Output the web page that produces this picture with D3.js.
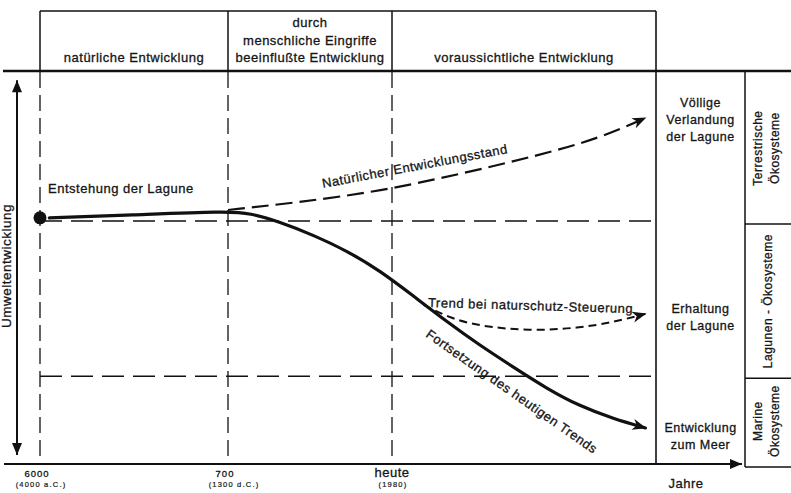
<!DOCTYPE html>
<html>
<head>
<meta charset="utf-8">
<script src="https://cdn.jsdelivr.net/npm/d3@7"></script>
<style>
body { margin: 0; background: #fff; }
svg text { font-family: "Liberation Sans", Arial, Helvetica, sans-serif; fill: #151515; stroke: #151515; stroke-width: 0.3px; letter-spacing: 0.5px; }
</style>
</head>
<body>
<svg id="svg" width="791" height="493"></svg>
<script>
// phases along the (schematic) time axis, stage 0..3
var phaseLabels = [
    ["natürliche Entwicklung"],
    ["durch", "menschliche Eingriffe", "beeinflußte Entwicklung"],
    ["voraussichtliche Entwicklung"]
];
var stageBounds = [0, 1, 2, 3];
var tickLabels = ["6000", "700", "heute"];
var tickSubLabels = ["(4000 a.C.)", "(1300 d.C.)", "(1980)"];

// outcome column + ecosystem column
var outcomeLabels = [["Völlige", "Verlandung", "der Lagune"], ["Erhaltung", "der Lagune"], ["Entwicklung", "zum Meer"]];
var ecoLabels = [["Terrestrische", "Ökosysteme"], ["Lagunen - Ökosysteme"], ["Marine", "Ökosysteme"]];
var ecoBreaks = [100, 61.2, 21.9, 0];

// reference levels (0 = bottom, 100 = top of "Umweltentwicklung")
var lagoonLevel = 62.0;
var marineLevel = 22.4;
var originLevel = 62.8;

// curves: stage / level
var trendStage = [0.05, 0.48, 1.0, 1.13, 1.32, 1.52, 1.73, 1.93, 2.08, 2.21, 2.33, 2.46, 2.59, 2.71, 2.84, 2.96];
var trendLevel = [62.8, 63.5, 64.5, 64.0, 61.7, 58.4, 54.3, 49.2, 42.9, 36.2, 30.4, 24.7, 19.1, 14.8, 11.5, 9.2];

var naturalStage = [1.0, 1.44, 1.93, 2.26, 2.56, 2.79, 2.96];
var naturalLevel = [64.8, 66.8, 69.6, 74.0, 78.8, 83.2, 88.3];

var protectStage = [2.12, 2.22, 2.33, 2.52, 2.71, 2.84, 2.96];
var protectLevel = [40.6, 37.2, 35.2, 33.9, 34.7, 36.2, 38.3];

//////////////////////////////////////////////////////////////////////////////
var svg = d3.select("#svg");
var ink = "#111";

var x = d3.scaleLinear().domain(stageBounds).range([40, 228, 392, 656]);
var y = d3.scaleLinear().domain([0, 100]).range([464, 72]);

var headerTop = 11;
var colRight = 745, ecoRight = 791;

function zip(a, b) {
    return a.map(function(v, i) { return [v, b[i]]; });
}

var defs = svg.append("defs");
function addMarker(id, d) {
    defs.append("marker")
        .attr("id", id)
        .attr("markerUnits", "userSpaceOnUse")
        .attr("viewBox", "-16 -8 18 16")
        .attr("markerWidth", 18)
        .attr("markerHeight", 16)
        .attr("refX", 0).attr("refY", 0)
        .attr("orient", "auto-start-reverse")
        .append("path")
        .attr("d", d)
        .attr("fill", ink);
}
addMarker("barb", "M1,0 L-13,-5.5 L-9,0 L-13,5.5 Z");
addMarker("tri", "M0,0 L-12,-5 L-12,5 Z");

function hline(x1, x2, yy, w, dash) {
    svg.append("line").attr("x1", x1).attr("x2", x2).attr("y1", yy).attr("y2", yy)
        .attr("stroke", ink).attr("stroke-width", w)
        .attr("stroke-dasharray", dash || null);
}
function vline(xx, y1, y2, w, dash) {
    svg.append("line").attr("x1", xx).attr("x2", xx).attr("y1", y1).attr("y2", y2)
        .attr("stroke", ink).attr("stroke-width", w)
        .attr("stroke-dasharray", dash || null);
}

// header frame
hline(x(0), x(3), headerTop, 1.5);
hline(3, ecoRight, y(100) - 1, 2.5);
for (var i = 0; i < 3; ++i) {
    vline(x(i), headerTop, y(100), 1.5);
    vline(x(i), y(100), y(0), 1.3, "16,7");
}
vline(x(3), headerTop, y(0), 1.6);

// phase labels
phaseLabels.forEach(function(lines, i) {
    var cx = (x(i) + x(i + 1)) / 2;
    var t = svg.append("text").attr("text-anchor", "middle").style("font-size", "13px");
    lines.forEach(function(s, j) {
        t.append("tspan").attr("x", cx)
            .attr("y", 62 - (lines.length - 1 - j) * 17.5)
            .text(s);
    });
});

// level reference lines
hline(x(0), x(3), y(lagoonLevel), 1.4, "22,9");
hline(x(0), x(3), y(marineLevel), 1.4, "22,9");

// ecosystem column
vline(colRight, y(100), y(0) + 3, 1.5);
ecoBreaks.slice(1).forEach(function(b, i) {
    hline(colRight, ecoRight, y(b) + (i == 2 ? 3 : 0), 1.5);
});
ecoLabels.forEach(function(lines, i) {
    var cy = (y(ecoBreaks[i]) + y(ecoBreaks[i + 1])) / 2;
    var t = svg.append("text").attr("text-anchor", "middle")
        .attr("transform", "translate(768," + cy + ") rotate(-90)")
        .style("font-size", "12px");
    var offs = lines.length == 1 ? [4] : [-6, 11];
    lines.forEach(function(s, j) {
        t.append("tspan").attr("x", 0).attr("y", offs[j]).text(s);
    });
});

// outcome labels
var outcomeCentres = [88.0, 37.5, 7.2];
outcomeLabels.forEach(function(lines, i) {
    var cy = y(outcomeCentres[i]);
    var t = svg.append("text").attr("text-anchor", "middle").style("font-size", "12.5px");
    lines.forEach(function(s, j) {
        t.append("tspan").attr("x", (x(3) + colRight) / 2)
            .attr("y", cy + 4.5 + (j - (lines.length - 1) / 2) * 17)
            .text(s);
    });
});

// vertical axis
svg.append("line").attr("x1", 17).attr("x2", 17).attr("y1", y(97.9)).attr("y2", y(2.3))
    .attr("stroke", ink).attr("stroke-width", 2)
    .attr("marker-start", "url(#tri)").attr("marker-end", "url(#tri)");
svg.append("text").attr("text-anchor", "middle")
    .attr("transform", "translate(11," + y(50.5) + ") rotate(-90)")
    .style("font-size", "13.5px")
    .text("Umweltentwicklung");

// time axis
svg.append("line").attr("x1", 4).attr("x2", 742).attr("y1", y(0)).attr("y2", y(0))
    .attr("stroke", ink).attr("stroke-width", 2)
    .attr("marker-end", "url(#tri)");
tickLabels.forEach(function(s, i) {
    var big = (i == 2);
    svg.append("text").attr("text-anchor", "middle")
        .attr("x", x(i) - (big ? 0 : 3)).attr("y", y(0) + 13)
        .style("font-size", big ? "13px" : "9.5px")
        .style("letter-spacing", big ? "0.5px" : "1px")
        .text(s);
    svg.append("text").attr("text-anchor", "middle")
        .attr("x", x(i) + (i == 1 ? 6 : 1)).attr("y", y(0) + 23)
        .style("font-size", "7.5px")
        .style("letter-spacing", "1.2px")
        .style("stroke-width", "0.2px")
        .text(tickSubLabels[i]);
});
svg.append("text").attr("text-anchor", "middle")
    .attr("x", 686).attr("y", 488)
    .style("font-size", "13px")
    .text("Jahre");

// curves
var line = d3.line()
    .x(function(d) { return x(d[0]); })
    .y(function(d) { return y(d[1]); })
    .curve(d3.curveBasis);

svg.append("path").datum(zip(naturalStage, naturalLevel))
    .attr("d", line).attr("fill", "none")
    .attr("stroke", ink).attr("stroke-width", 2.2)
    .attr("stroke-dasharray", "17,7")
    .attr("marker-end", "url(#barb)");

svg.append("path").datum(zip(protectStage, protectLevel))
    .attr("d", line).attr("fill", "none")
    .attr("stroke", ink).attr("stroke-width", 2)
    .attr("stroke-dasharray", "8,5")
    .attr("marker-end", "url(#barb)");

svg.append("path").datum(zip(trendStage, trendLevel))
    .attr("d", line).attr("fill", "none")
    .attr("stroke", ink).attr("stroke-width", 3.2)
    .attr("stroke-linecap", "round")
    .attr("marker-end", "url(#barb)");

svg.append("circle").attr("cx", x(0)).attr("cy", y(originLevel)).attr("r", 6.5).attr("fill", ink);

// curve annotations
function note(stage, level, angle, s) {
    svg.append("text")
        .attr("transform", "translate(" + x(stage) + "," + y(level) + ") rotate(" + angle + ")")
        .style("font-size", "13px")
        .text(s);
}
note(0.043, 69.1, 0, "Entstehung der Lagune");
note(1.579, 70.4, -10.7, "Natürlicher Entwicklungsstand");
note(2.136, 40.05, 1.7, "Trend bei naturschutz-Steuerung");
note(2.125, 32.6, 35, "Fortsetzung des heutigen Trends");
</script>
</body>
</html>
